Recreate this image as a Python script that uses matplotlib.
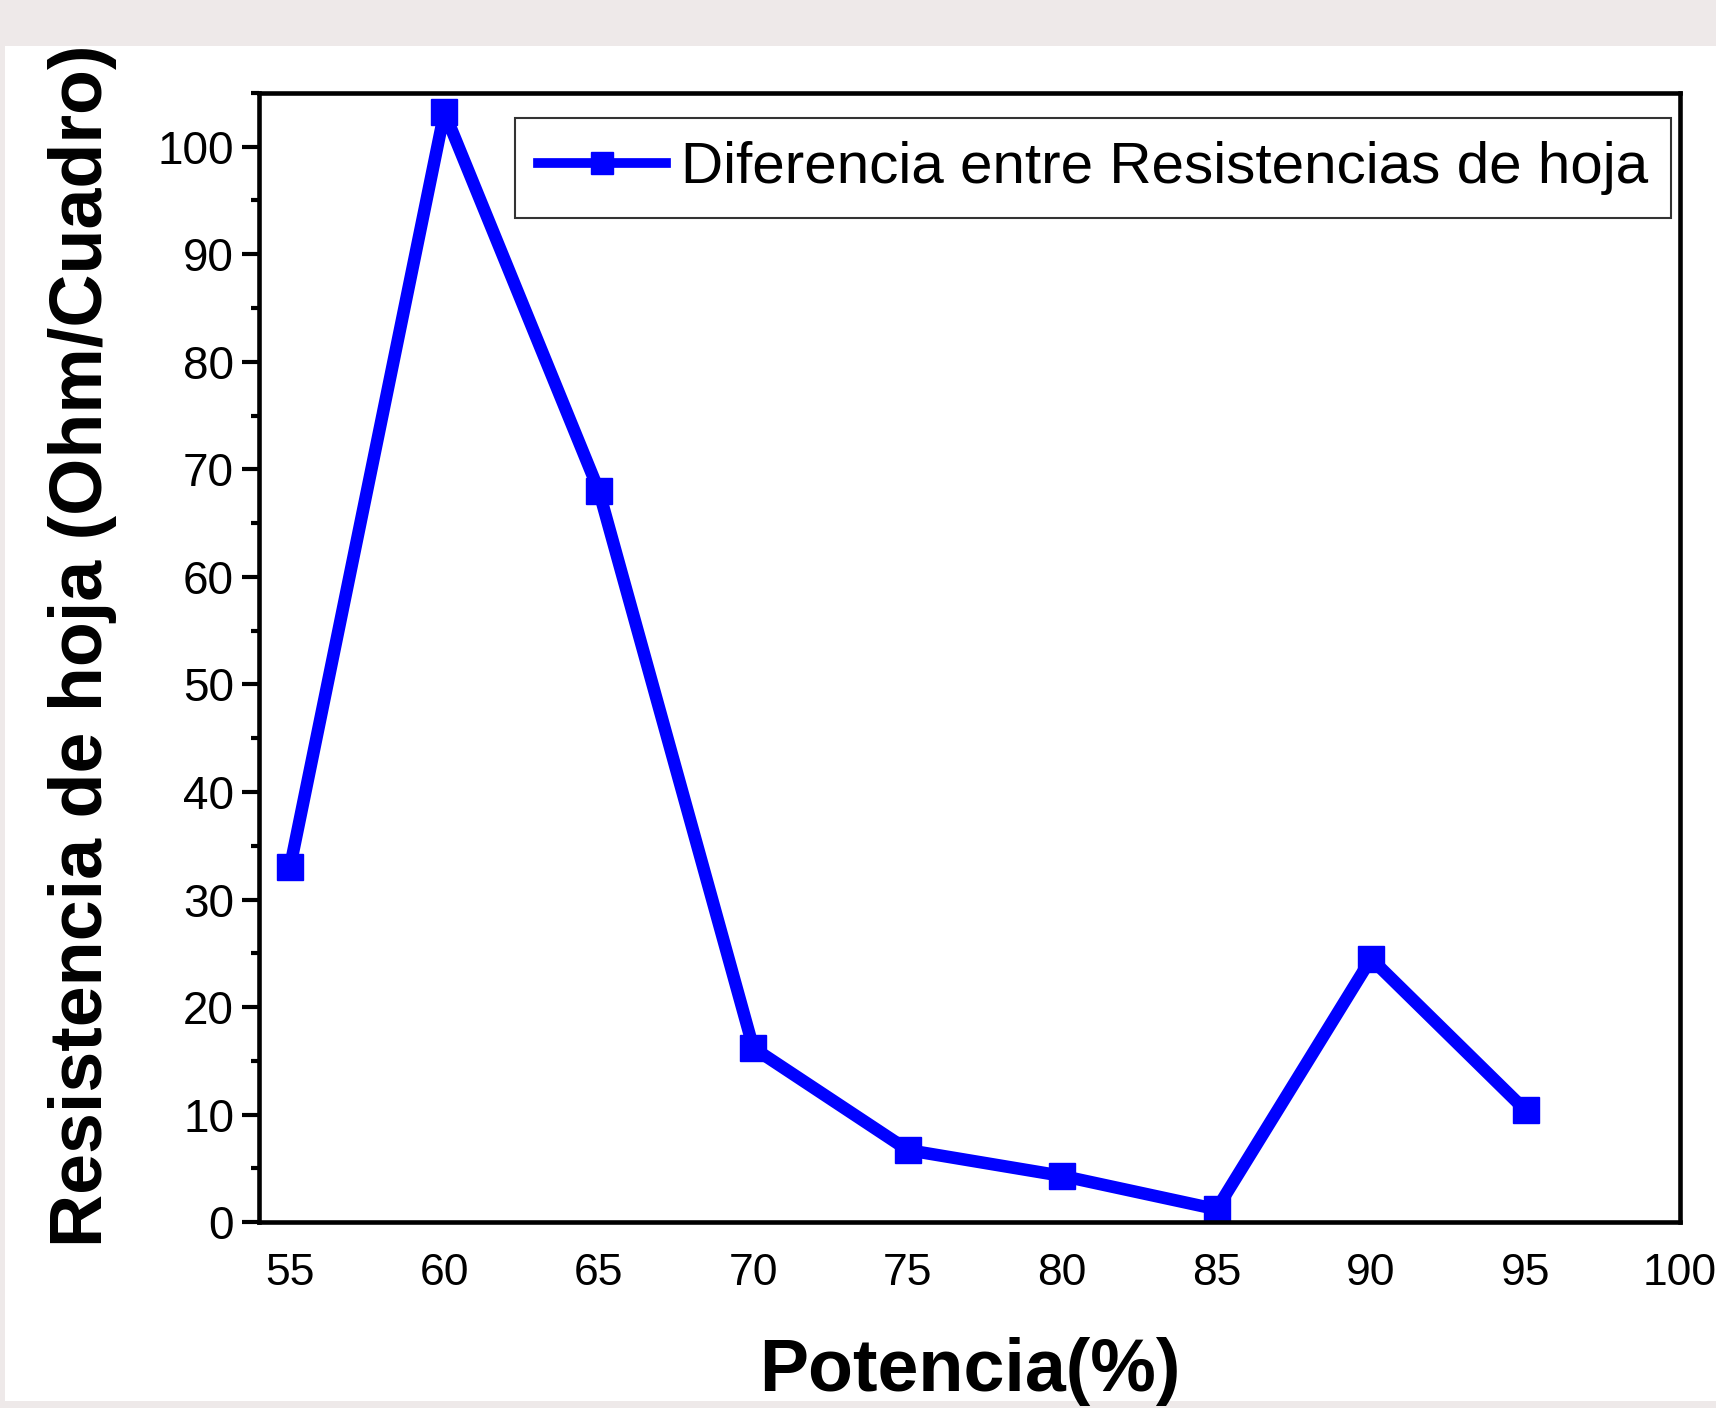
import matplotlib.pyplot as plt
from matplotlib.patches import Rectangle
from matplotlib.ticker import MultipleLocator

# Data
potencia = [55, 60, 65, 70, 75, 80, 85, 90, 95]
diferencia = [33.0, 103.2, 68.0, 16.2, 6.7, 4.3, 1.2, 24.5, 10.4]
x_ticks = [55, 60, 65, 70, 75, 80, 85, 90, 95, 100]
y_ticks = [0, 10, 20, 30, 40, 50, 60, 70, 80, 90, 100]

plt.rcParams['font.family'] = ['Liberation Sans', 'DejaVu Sans']

fig = plt.figure(figsize=(17.16, 14.08), dpi=100, facecolor='#eee9e9')
# white panel behind the chart
fig.patches.append(Rectangle((0.003, 0.005), 1.0, 0.962, transform=fig.transFigure,
                             facecolor='white', edgecolor='none', zorder=-5))

ax = fig.add_axes([0.151, 0.132, 0.828, 0.802])
ax.set_facecolor('white')

ax.plot(potencia, diferencia, color='#0000ff', linewidth=9, marker='s',
        markersize=19, label='Diferencia entre Resistencias de hoja')

ax.set_xlim(54, 100)
ax.set_ylim(0, 105)
ax.set_xticks(x_ticks)
ax.set_yticks(y_ticks)
ax.yaxis.set_minor_locator(MultipleLocator(5))

for s in ax.spines.values():
    s.set_linewidth(3.3)
ax.tick_params(axis='x', length=0, pad=22, labelsize=32)
ax.tick_params(axis='y', which='major', direction='out', length=12, width=3, labelsize=33, pad=6)
ax.tick_params(axis='y', which='minor', direction='out', length=6, width=3)

ax.set_xlabel('Potencia(%)', fontsize=53, fontweight='bold', va='top')
ax.set_ylabel('Resistencia de hoja (Ohm/Cuadro)', fontsize=53, fontweight='bold')
ax.xaxis.set_label_coords(0.5, -0.102)
ax.yaxis.set_label_coords(-0.1, 0.51)

leg = ax.legend(loc='upper right', fontsize=42, frameon=True, fancybox=False,
                edgecolor='black', handlelength=2.2, handletextpad=0.25,
                borderpad=0.4, borderaxespad=0, bbox_to_anchor=(0.994, 0.978),
                markerscale=0.8)
leg.get_frame().set_linewidth(1.5)
leg.get_lines()[0].set_linewidth(7)

plt.savefig('out.png', dpi=100, facecolor=fig.get_facecolor())
